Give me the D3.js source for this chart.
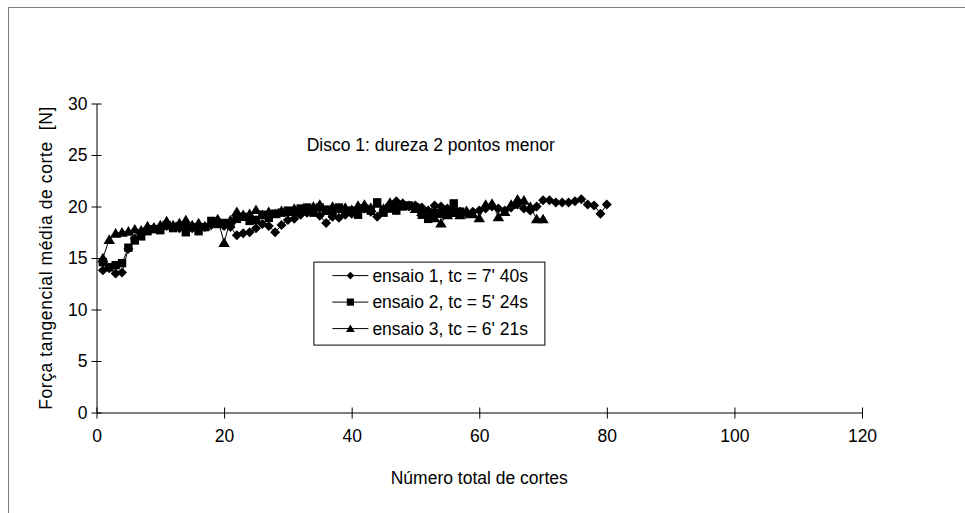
<!DOCTYPE html>
<html>
<head>
<meta charset="utf-8">
<script src="https://cdn.jsdelivr.net/npm/d3@7"></script>
<style>
  body { margin: 0; background: #fff; }
  text { font-family: "Liberation Sans", Arial, sans-serif; fill: #000; white-space: pre; }
</style>
</head>
<body>
<div id="wrapper"></div>
<script>
// data
const ensaio1 = [13.8, 14.0, 13.5, 13.6, 15.9, 16.9, 17.4, 17.8, 17.9, 17.8,
                 18.1, 18.0, 17.9, 18.1, 17.9, 17.8, 18.0, 18.2, 18.4, 18.1,
                 18.0, 17.2, 17.4, 17.5, 17.9, 18.3, 18.1, 17.5, 18.2, 18.7,
                 18.8, 19.2, 19.4, 19.6, 19.1, 18.4, 19.0, 18.9, 19.2, 19.3,
                 19.6, 19.8, 19.5, 19.0, 19.7, 20.2, 20.5, 20.3, 20.0, 20.1,
                 19.9, 19.6, 20.1, 20.0, 19.8, 19.6, 19.5, 19.3, 19.5, 19.6,
                 19.8, 20.0, 19.8, 19.6, 19.9, 20.2, 19.8, 19.6, 20.0, 20.6,
                 20.6, 20.4, 20.4, 20.4, 20.5, 20.7, 20.2, 20.1, 19.3, 20.2];
const ensaio2 = [14.6, 14.1, 14.3, 14.5, 16.0, 16.7, 17.1, 17.6, 17.8, 17.7,
                 18.2, 17.9, 18.1, 17.5, 18.0, 17.6, 18.0, 18.6, 18.3, 18.4,
                 18.3, 18.8, 19.0, 18.6, 18.7, 19.2, 18.9, 19.3, 19.4, 19.6,
                 19.5, 19.8, 19.9, 19.4, 19.9, 19.7, 19.3, 19.9, 19.5, 19.6,
                 19.2, 19.8, 19.6, 20.4, 19.4, 19.8, 19.6, 20.0, 20.1, 19.9,
                 19.2, 18.8, 19.4, 19.3, 19.6, 20.3, 19.5];
const ensaio3 = [15.0, 16.8, 17.4, 17.5, 17.6, 17.8, 17.7, 18.1, 18.0, 18.2,
                 18.6, 18.2, 18.4, 18.7, 18.2, 18.4, 18.1, 18.5, 18.8, 16.5,
                 18.7, 19.5, 19.2, 19.3, 19.7, 19.2, 19.5, 19.3, 19.6, 19.5,
                 19.8, 19.6, 19.8, 20.0, 20.2, 19.6, 20.0, 19.8, 19.9, 19.7,
                 20.1, 20.2, 19.9, 20.3, 19.8, 20.4, 20.1, 20.3, 20.1, 19.8,
                 19.5, 19.3, 18.9, 18.4, 19.2, 19.4, 19.2, 19.6, 19.3, 18.9,
                 20.2, 20.3, 19.0, 19.5, 20.2, 20.7, 20.6, 20.0, 18.8, 18.8];

const seriesNames = ["ensaio 1, tc = 7' 40s", "ensaio 2, tc = 5' 24s", "ensaio 3, tc = 6' 21s"];
const xTicks = [0, 20, 40, 60, 80, 100, 120];
const yTicks = [0, 5, 10, 15, 20, 25, 30];

const title = "Disco 1: dureza 2 pontos menor";
const xLabel = "Número total de cortes";
const yLabel = "Força tangencial média de corte  [N]";

// marker shapes (custom, like the spreadsheet ones)
const diamond = r => `M0,${-r}L${r},0L0,${r}L${-r},0Z`;
const square = r => `M${-r},${-r}H${r}V${r}H${-r}Z`;
const triangle = r => `M0,${-r}L${r * 1.1},${r * 0.85}H${-r * 1.1}Z`;
const shapes = [d => diamond(5), d => square(4.2), d => triangle(5.2)];

const fontSize = "17.5px";

function drawChart() {
    const dms = {
        width: 965,
        height: 513,
        margins: { top: 103.5, right: 103, left: 96.5, bottom: 100.5 }
    };
    dms.innerWidth = dms.width - dms.margins.left - dms.margins.right;
    dms.innerHeight = dms.height - dms.margins.top - dms.margins.bottom;

    const wrapper = d3.select("#wrapper")
        .append("svg")
            .attr("width", dms.width)
            .attr("height", dms.height);

    wrapper.append("rect")
        .attr("width", dms.width)
        .attr("height", dms.height)
        .attr("fill", "#fff");

    // outer chart frame
    wrapper.append("rect")
        .attr("x", 8.5)
        .attr("y", 7.5)
        .attr("width", 1200)
        .attr("height", 1200)
        .attr("fill", "none")
        .attr("stroke", "#7f7f7f")
        .attr("stroke-width", 1);

    const inner = wrapper.append("g")
        .attr("transform", `translate(${dms.margins.left},${dms.margins.top})`);

    const xScale = d3.scaleLinear()
        .domain([0, 120])
        .range([0, dms.innerWidth]);

    const yScale = d3.scaleLinear()
        .domain([0, 30])
        .range([dms.innerHeight, 0]);

    // axes
    const xAxis = inner.append("g")
        .attr("transform", `translate(0,${dms.innerHeight})`)
        .call(d3.axisBottom(xScale).tickValues(xTicks).tickSize(0).tickPadding(0));
    xAxis.select(".domain").attr("stroke", "#000");
    xAxis.selectAll(".tick").append("line")
        .attr("y1", -5).attr("y2", 6).attr("stroke", "#000");
    xAxis.selectAll(".tick text")
        .attr("y", 24)
        .attr("dy", "0.32em")
        .style("font-size", fontSize)
        .style("font-family", "'Liberation Sans', Arial, sans-serif")
        .attr("fill", "#000");

    const yAxis = inner.append("g")
        .call(d3.axisLeft(yScale).tickValues(yTicks).tickSize(0).tickPadding(0));
    yAxis.select(".domain").attr("stroke", "#000");
    yAxis.selectAll(".tick").append("line")
        .attr("x1", -5).attr("x2", 5).attr("stroke", "#000");
    yAxis.selectAll(".tick text")
        .attr("x", -9)
        .style("font-size", fontSize)
        .style("font-family", "'Liberation Sans', Arial, sans-serif")
        .attr("fill", "#000");

    // series
    const allSeries = [ensaio1, ensaio2, ensaio3];
    const lineGen = d3.line()
        .x((d, i) => xScale(i + 1))
        .y(d => yScale(d));

    allSeries.forEach((values, s) => {
        const g = inner.append("g");
        g.append("path")
            .datum(values)
            .attr("d", lineGen)
            .attr("fill", "none")
            .attr("stroke", "#000")
            .attr("stroke-width", 1);
        g.selectAll("path.marker")
            .data(values)
            .join("path")
                .attr("class", "marker")
                .attr("transform", (d, i) => `translate(${xScale(i + 1)},${yScale(d)})`)
                .attr("d", shapes[s])
                .attr("fill", "#000");
    });

    // title inside the plot
    inner.append("text")
        .attr("x", xScale(52.4))
        .attr("y", yScale(25.4))
        .attr("text-anchor", "middle")
        .style("font-size", fontSize)
        .text(title);

    // legend
    const legend = inner.append("g")
        .attr("transform", `translate(${xScale(34.0)},${yScale(14.65)})`);
    legend.append("rect")
        .attr("x", 0.5).attr("y", 0.5)
        .attr("width", 231).attr("height", 83)
        .attr("fill", "#fff")
        .attr("stroke", "#000");
    const rows = legend.selectAll("g.row")
        .data(seriesNames)
        .join("g")
            .attr("class", "row")
            .attr("transform", (d, i) => `translate(0,${14 + i * 26.5})`);
    rows.append("line")
        .attr("x1", 19).attr("x2", 55)
        .attr("stroke", "#000");
    rows.append("path")
        .attr("transform", "translate(37,0)")
        .attr("d", (d, i) => [diamond(3.8), square(3.6), triangle(4)][i])
        .attr("fill", "#000");
    rows.append("text")
        .attr("x", 59)
        .attr("dy", "0.35em")
        .style("font-size", fontSize)
        .text(d => d);

    // axis titles
    inner.append("text")
        .attr("x", xScale(60))
        .attr("y", dms.innerHeight + 71)
        .attr("text-anchor", "middle")
        .style("font-size", fontSize)
        .text(xLabel);

    inner.append("text")
        .attr("transform", `translate(-51,${dms.innerHeight / 2}) rotate(-90)`)
        .attr("text-anchor", "middle")
        .attr("dy", "0.35em")
        .style("font-size", fontSize)
        .style("letter-spacing", "0.6px")
        .text(yLabel);
}

drawChart();
</script>
</body>
</html>
